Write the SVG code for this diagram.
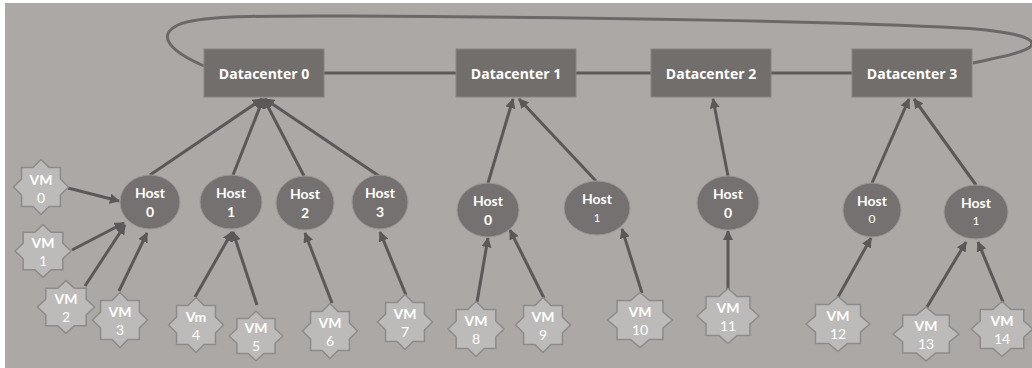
<svg xmlns="http://www.w3.org/2000/svg" xmlns:xlink="http://www.w3.org/1999/xlink" width="1032" height="368" viewBox="0 0 1032 368">
  <style>
    .dc rect { fill: #726e6c; stroke: #878381; stroke-width: 1; }
    .dc text { fill: #ffffff; font-family: "Open Sans", "DejaVu Sans", sans-serif; font-weight: 700; font-size: 14px; text-anchor: middle; }
    .host ellipse { fill: #757170; stroke: #9a9694; stroke-width: 1; }
    .host text, .vm text { fill: #ffffff; font-family: Lato, "Noto Sans", sans-serif; text-anchor: middle; }
    .b { font-weight: 700; font-size: 14px; }
    .n { font-weight: 700; font-size: 14px; }
    .r { font-weight: 400; font-size: 14px; }
    .s { font-weight: 400; font-size: 12px; }
    .vm use { fill: #bdbbba; stroke: #8d8a89; }
    .link { fill: none; stroke: #5d5a59; stroke-width: 3; }
    .ring { fill: none; stroke: #6c6867; stroke-width: 3; }
    .arrow { fill: none; stroke: #5b5857; stroke-width: 3; marker-end: url(#head); }
  </style>
  <defs>
    <marker id="head" viewBox="0 0 10 10" refX="9" refY="5" markerWidth="3.4" markerHeight="3.4" orient="auto">
      <path d="M0,0 L10,5 L0,10 z" fill="#5b5857"/>
    </marker>
    <!-- eight-point star, outer radius 27.5 -->
    <path id="star" vector-effect="non-scaling-stroke" stroke-width="1.5"
      d="M0,-27.5 L8.06,-19.43 L19.45,-19.45 L19.43,-8.06 L27.5,0 L19.43,8.06 L19.45,19.45 L8.06,19.43 L0,27.5 L-8.06,19.43 L-19.45,19.45 L-19.43,8.06 L-27.5,0 L-19.43,-8.06 L-19.45,-19.45 L-8.06,-19.43 Z"/>
  </defs>

  <!-- canvas -->
  <rect x="0" y="0" width="1032" height="368" fill="#ffffff"/>
  <rect x="5" y="3" width="1027" height="365" fill="#aca8a6"/>

  <!-- connectors -->
  <g id="connectors">
    <path class="ring" d="M204,66 C172,52 155,36 178,25 C200,15 260,16 350,16 C600,17 850,22 960,28 C1010,31 1040,38 1030,47 C1020,54 995,58 973,63"/>
    <line class="link" x1="324" y1="73" x2="456" y2="73"/>
    <line class="link" x1="576" y1="73" x2="651" y2="73"/>
    <line class="link" x1="771" y1="73" x2="852" y2="73"/>

    <!-- hosts to datacenters -->
    <line class="arrow" x1="150" y1="175" x2="262" y2="99"/>
    <line class="arrow" x1="233" y1="175" x2="263" y2="99"/>
    <line class="arrow" x1="304" y1="176" x2="264" y2="99"/>
    <line class="arrow" x1="379" y1="176" x2="265" y2="99"/>
    <line class="arrow" x1="488" y1="183" x2="513" y2="99"/>
    <line class="arrow" x1="596" y1="181" x2="519" y2="99"/>
    <line class="arrow" x1="728" y1="176" x2="713" y2="99"/>
    <line class="arrow" x1="872" y1="183" x2="909" y2="99"/>
    <line class="arrow" x1="976" y1="185" x2="914" y2="99"/>

    <!-- vms to hosts -->
    <line class="arrow" x1="68" y1="188" x2="119" y2="201"/>
    <line class="arrow" x1="72" y1="250" x2="124" y2="223"/>
    <line class="arrow" x1="85" y1="286" x2="125" y2="225"/>
    <line class="arrow" x1="119" y1="291" x2="147" y2="233"/>
    <line class="arrow" x1="195" y1="297" x2="232" y2="232"/>
    <line class="arrow" x1="257" y1="305" x2="233" y2="232"/>
    <line class="arrow" x1="332" y1="303" x2="305" y2="233"/>
    <line class="arrow" x1="406" y1="295" x2="380" y2="232"/>
    <line class="arrow" x1="477" y1="302" x2="488" y2="238"/>
    <line class="arrow" x1="544" y1="298" x2="510" y2="230"/>
    <line class="arrow" x1="642" y1="293" x2="622" y2="229"/>
    <line class="arrow" x1="728" y1="289" x2="728" y2="231"/>
    <line class="arrow" x1="838" y1="297" x2="871" y2="238"/>
    <line class="arrow" x1="927" y1="307" x2="966" y2="242"/>
    <line class="arrow" x1="1003" y1="302" x2="978" y2="242"/>
  </g>

  <!-- datacenters -->
  <g id="dc0" class="dc"><rect x="204" y="49" width="120" height="48"/><text x="264" y="79">Datacenter 0</text></g>
  <g id="dc1" class="dc"><rect x="456" y="49" width="120" height="48"/><text x="516" y="79">Datacenter 1</text></g>
  <g id="dc2" class="dc"><rect x="651" y="49" width="120" height="48"/><text x="711" y="79">Datacenter 2</text></g>
  <g id="dc3" class="dc"><rect x="852" y="49" width="120" height="48"/><text x="912" y="79">Datacenter 3</text></g>

  <!-- hosts -->
  <g id="dc0-host0" class="host"><ellipse cx="150" cy="202" rx="30" ry="27"/><text class="b" x="150" y="198">Host</text><text class="n" x="150" y="217">0</text></g>
  <g id="dc0-host1" class="host"><ellipse cx="231" cy="202" rx="31" ry="27"/><text class="b" x="231" y="198">Host</text><text class="n" x="231" y="217">1</text></g>
  <g id="dc0-host2" class="host"><ellipse cx="305" cy="203" rx="29" ry="27"/><text class="b" x="305" y="199">Host</text><text class="n" x="305" y="218">2</text></g>
  <g id="dc0-host3" class="host"><ellipse cx="380" cy="202" rx="28" ry="27"/><text class="b" x="380" y="198">Host</text><text class="n" x="380" y="217">3</text></g>
  <g id="dc1-host0" class="host"><ellipse cx="488" cy="210" rx="31" ry="27"/><text class="b" x="488" y="206">Host</text><text class="n" x="488" y="225">0</text></g>
  <g id="dc1-host1" class="host"><ellipse cx="597" cy="208" rx="33" ry="27"/><text class="b" x="597" y="204">Host</text><text class="s" x="597" y="222">1</text></g>
  <g id="dc2-host0" class="host"><ellipse cx="728" cy="203" rx="31" ry="27"/><text class="b" x="728" y="199">Host</text><text class="n" x="728" y="218">0</text></g>
  <g id="dc3-host0" class="host"><ellipse cx="872" cy="210" rx="29" ry="27"/><text class="b" x="872" y="206">Host</text><text class="s" x="872" y="223">0</text></g>
  <g id="dc3-host1" class="host"><ellipse cx="976" cy="212" rx="32" ry="27"/><text class="b" x="976" y="208">Host</text><text class="s" x="976" y="225">1</text></g>

  <!-- virtual machines -->
  <g id="vm0" class="vm"><use xlink:href="#star" transform="translate(41,187)"/><text class="b" x="41" y="185">VM</text><text class="r" x="41" y="203">0</text></g>
  <g id="vm1" class="vm"><use xlink:href="#star" transform="translate(43,251) scale(1.02,0.96)"/><text class="b" x="43" y="248">VM</text><text class="r" x="43" y="266">1</text></g>
  <g id="vm2" class="vm"><use xlink:href="#star" transform="translate(66,307) scale(1.04,0.96)"/><text class="b" x="66" y="304">VM</text><text class="r" x="66" y="322">2</text></g>
  <g id="vm3" class="vm"><use xlink:href="#star" transform="translate(120,320)"/><text class="b" x="120" y="317">VM</text><text class="r" x="120" y="335">3</text></g>
  <g id="vm4" class="vm"><use xlink:href="#star" transform="translate(196,325)"/><text class="b" x="196" y="322">Vm</text><text class="r" x="196" y="340">4</text></g>
  <g id="vm5" class="vm"><use xlink:href="#star" transform="translate(256,336) scale(0.98,0.9)"/><text class="b" x="256" y="333">VM</text><text class="r" x="256" y="351">5</text></g>
  <g id="vm6" class="vm"><use xlink:href="#star" transform="translate(330,331)"/><text class="b" x="330" y="328">VM</text><text class="r" x="330" y="346">6</text></g>
  <g id="vm7" class="vm"><use xlink:href="#star" transform="translate(405,322)"/><text class="b" x="405" y="319">VM</text><text class="r" x="405" y="337">7</text></g>
  <g id="vm8" class="vm"><use xlink:href="#star" transform="translate(476,329) scale(1.02,1)"/><text class="b" x="476" y="326">VM</text><text class="r" x="476" y="344">8</text></g>
  <g id="vm9" class="vm"><use xlink:href="#star" transform="translate(543,325)"/><text class="b" x="543" y="322">VM</text><text class="r" x="543" y="340">9</text></g>
  <g id="vm10" class="vm"><use xlink:href="#star" transform="translate(640,320) scale(1.18,1)"/><text class="b" x="640" y="317">VM</text><text class="r" x="640" y="335">10</text></g>
  <g id="vm11" class="vm"><use xlink:href="#star" transform="translate(728,316) scale(1.13,1)"/><text class="b" x="728" y="313">VM</text><text class="r" x="728" y="331">11</text></g>
  <g id="vm12" class="vm"><use xlink:href="#star" transform="translate(838,324) scale(1.16,1)"/><text class="b" x="838" y="321">VM</text><text class="r" x="838" y="339">12</text></g>
  <g id="vm13" class="vm"><use xlink:href="#star" transform="translate(926,334) scale(1.2,0.98)"/><text class="b" x="926" y="331">VM</text><text class="r" x="926" y="349">13</text></g>
  <g id="vm14" class="vm"><use xlink:href="#star" transform="translate(1002,329) scale(1.12,1)"/><text class="b" x="1002" y="326">VM</text><text class="r" x="1002" y="344">14</text></g>
</svg>
